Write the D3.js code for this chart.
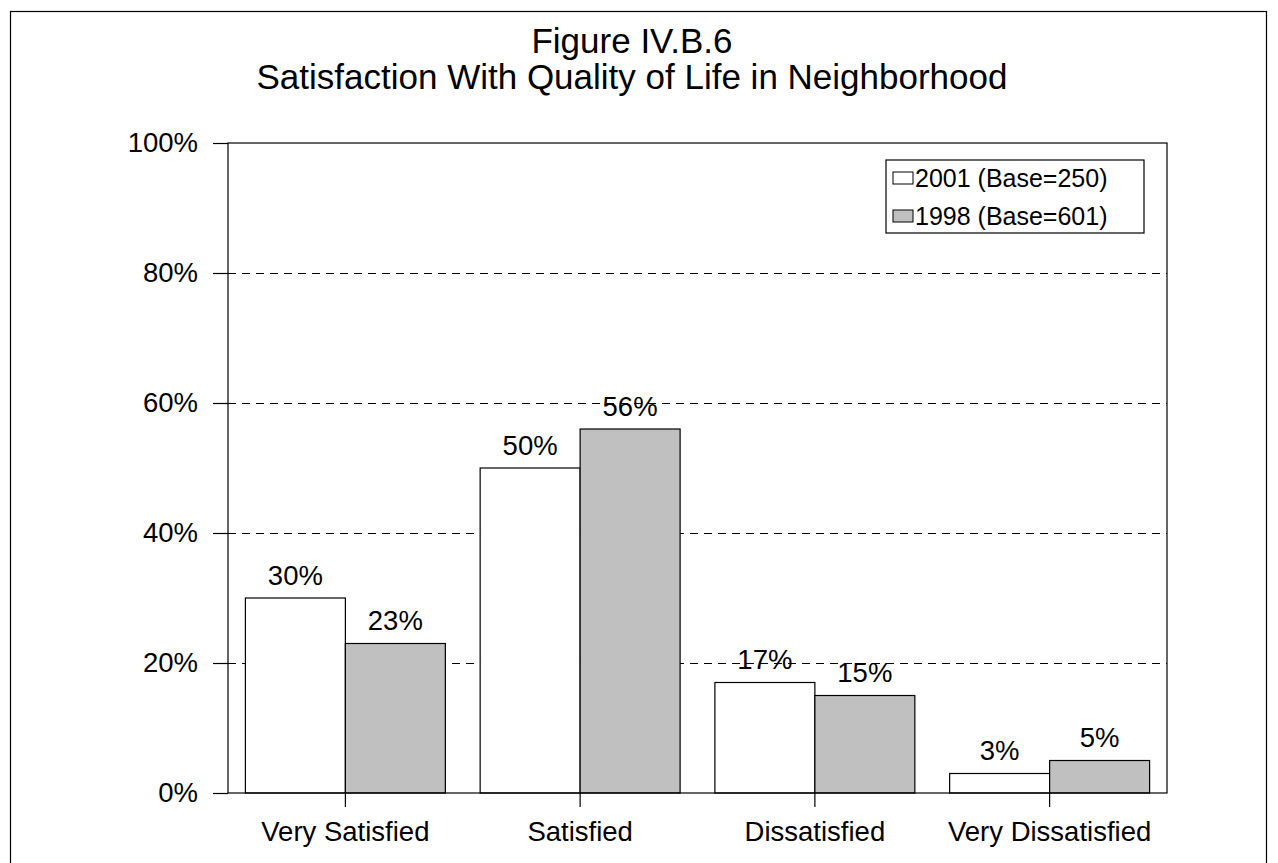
<!DOCTYPE html>
<html>
<head>
<meta charset="utf-8">
<script src="https://cdn.jsdelivr.net/npm/d3@7"></script>
<style>
  html, body { margin: 0; padding: 0; background: #fff; }
  svg { display: block; }
  text { font-family: "Liberation Sans", Arial, sans-serif; fill: #000; }
</style>
</head>
<body>
<svg id="chart" width="1278" height="863"></svg>
<script>
// ---- Data ----
const categories = ["Very Satisfied", "Satisfied", "Dissatisfied", "Very Dissatisfied"];
const seriesNames = ["2001 (Base=250)", "1998 (Base=601)"];
const values2001 = [30, 50, 17, 3];
const values1998 = [23, 56, 15, 5];
const yTicks = [0, 20, 40, 60, 80, 100];
const titleLines = ["Figure IV.B.6", "Satisfaction With Quality of Life in Neighborhood"];
const seriesColors = ["#FFFFFF", "#C0C0C0"];

const seriesValues = [values2001, values1998];

const svg = d3.select("#chart");

// outer border
svg.append("rect")
  .attr("x", 10.5).attr("y", 11.5)
  .attr("width", 1256).attr("height", 870)
  .attr("fill", "none").attr("stroke", "#000").attr("stroke-width", 1.2);

// title (two separate lines)
titleLines.forEach((t, i) => {
  svg.append("text")
    .attr("text-anchor", "middle")
    .attr("x", 632).attr("y", 53 + i * 35.5)
    .style("font-size", "35px")
    .text(t);
});

// plot area
const plot = { left: 228, right: 1167, top: 143, bottom: 793 };

const x0 = d3.scaleBand().domain(categories).range([plot.left, plot.right]).padding(0);
const x1 = d3.scaleBand().domain(seriesNames).range([0, x0.bandwidth()])
  .paddingInner(0).paddingOuter(0.174);
const y = d3.scaleLinear().domain([0, 100]).range([plot.bottom, plot.top]);

// gridlines
svg.append("g").selectAll("line")
  .data(yTicks.filter(d => d > 0 && d < 100))
  .join("line")
  .attr("x1", plot.left).attr("x2", plot.right)
  .attr("y1", d => y(d) + 0.5).attr("y2", d => y(d) + 0.5)
  .attr("stroke", "#000").attr("stroke-width", 1)
  .attr("stroke-dasharray", "8,6");

// bars
const rows = [];
categories.forEach((c, ci) => {
  seriesNames.forEach((s, si) => {
    rows.push({ cat: c, ser: s, si, v: seriesValues[si][ci] });
  });
});

svg.append("g").selectAll("rect")
  .data(rows)
  .join("rect")
  .attr("x", d => x0(d.cat) + x1(d.ser))
  .attr("y", d => y(d.v))
  .attr("width", x1.bandwidth())
  .attr("height", d => y(0) - y(d.v))
  .attr("fill", d => seriesColors[d.si])
  .attr("stroke", "#000").attr("stroke-width", 1.2);

// plot border
svg.append("rect")
  .attr("x", plot.left).attr("y", plot.top)
  .attr("width", plot.right - plot.left).attr("height", plot.bottom - plot.top)
  .attr("fill", "none").attr("stroke", "#000").attr("stroke-width", 1.2);

// value labels
svg.append("g").selectAll("text")
  .data(rows)
  .join("text")
  .attr("x", d => x0(d.cat) + x1(d.ser) + x1.bandwidth() / 2)
  .attr("y", d => y(d.v) - 13.5)
  .attr("text-anchor", "middle")
  .style("font-size", "27.5px")
  .text(d => d.v + "%");

// y axis
const yAxis = d3.axisLeft(y).tickValues(yTicks).tickFormat(d => d + "%")
  .tickSize(15).tickPadding(15);
const gy = svg.append("g").attr("transform", `translate(${plot.left},0)`).call(yAxis);
gy.select(".domain").remove();
gy.selectAll(".tick line").attr("stroke", "#000").attr("stroke-width", 1.2);
gy.selectAll(".tick text").style("font-size", "27.5px")
  .style("font-family", "'Liberation Sans', Arial, sans-serif").attr("fill", "#000");

// x axis: ticks at category centers
const xAxis = d3.axisBottom(x0).tickSize(14).tickPadding(14.5);
const gx = svg.append("g").attr("transform", `translate(0,${plot.bottom})`).call(xAxis);
gx.select(".domain").remove();
gx.selectAll(".tick line").attr("stroke", "#000").attr("stroke-width", 1.2);
gx.selectAll(".tick text").style("font-size", "27.5px")
  .style("font-family", "'Liberation Sans', Arial, sans-serif").attr("fill", "#000");

// legend
const lg = svg.append("g");
lg.append("rect")
  .attr("x", 886).attr("y", 160).attr("width", 258).attr("height", 73)
  .attr("fill", "#fff").attr("stroke", "#000").attr("stroke-width", 1.2);
seriesNames.forEach((s, i) => {
  const cy = 178 + i * 38;
  lg.append("rect")
    .attr("x", 893).attr("y", cy - 6).attr("width", 20).attr("height", 12)
    .attr("fill", seriesColors[i]).attr("stroke", "#000").attr("stroke-width", 1);
  lg.append("text")
    .attr("x", 915).attr("y", cy + 9)
    .style("font-size", "25px")
    .text(s);
});
</script>
</body>
</html>
